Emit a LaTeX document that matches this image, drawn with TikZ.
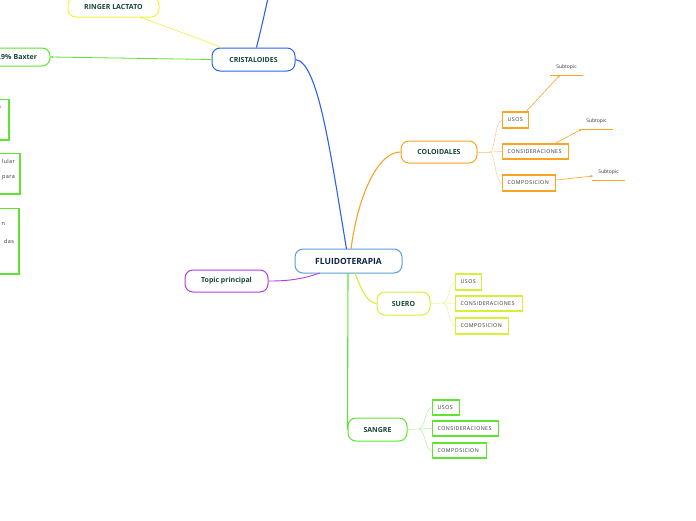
\documentclass[tikz,border=0pt]{standalone}
\usepackage{fontspec}
\setmainfont{Open Sans}
\newfontfamily\leaffont[LetterSpace=8]{Open Sans}
\usetikzlibrary{arrows.meta}
\definecolor{txtgreen}{HTML}{17463A}
\definecolor{txtnavy}{HTML}{0F2547}
\definecolor{cblue}{HTML}{2D62F0}
\definecolor{clblue}{HTML}{5A9ED8}
\definecolor{corange}{HTML}{F8A425}
\definecolor{clorange}{HTML}{FCD39C}
\definecolor{cyellow}{HTML}{F2F23C}
\definecolor{cygreen}{HTML}{D6F03A}
\definecolor{clygreen}{HTML}{EAF7A0}
\definecolor{cgreen}{HTML}{5FE531}
\definecolor{clgreen}{HTML}{B8F3A0}
\definecolor{cpurple}{HTML}{B43CE0}
\definecolor{smalltxt}{HTML}{333333}
\tikzset{
  topicbox/.style={draw, rounded corners=8pt, line width=1pt, fill=white, inner sep=0pt,
    font=\fontsize{7}{8}\selectfont\bfseries, text=txtgreen},
  leafbox/.style={draw, line width=1.4pt, fill=white, inner xsep=5pt, inner ysep=0pt, anchor=west,
    align=left, font=\leaffont\fontsize{5.3}{6}\selectfont, text=smalltxt},
  sidebox/.style={draw=cgreen, line width=1.2pt, fill=white},
  subtxt/.style={font=\fontsize{5}{6}\selectfont, text=smalltxt},
  sidetxt/.style={font=\leaffont\fontsize{5.5}{6}\selectfont, text=smalltxt},
  thinlink/.style={line width=0.6pt},
  mainlink/.style={line width=1.1pt},
  arr/.style={-{Stealth[length=3pt,width=2.5pt]}}
}
\begin{document}
\begin{tikzpicture}[x=1pt,y=-1pt]
\useasboundingbox (0,0) rectangle (696,520);
\clip (0,0) rectangle (696,520);
\fill[white] (0,0) rectangle (696,520);

% coordinates for free ends
\coordinate (topout) at (268,-2);
\coordinate (s1end) at (560,75);
\coordinate (s2end) at (582,129);
\coordinate (s3end) at (593,176);
\coordinate (cbr) at (490,152);
\coordinate (sbr) at (443,303);
\coordinate (gbr) at (419,429);

% main nodes
\node[topicbox, draw=clblue, text=txtnavy, font=\fontsize{8.5}{10}\selectfont\bfseries,
  minimum width=107pt, minimum height=24pt] (fluido) at (348.5,261) {FLUIDOTERAPIA};
\node[topicbox, draw=cblue, minimum width=83pt, minimum height=23pt] (cris) at (253.5,59.5) {CRISTALOIDES};
\node[topicbox, draw=cyellow, minimum width=91pt, minimum height=20pt] (ringer) at (113.5,7) {RINGER LACTATO};
\node[topicbox, draw=cgreen, minimum width=110pt, minimum height=18pt, align=right, text width=84pt] (baxter) at (-5,57) {0.9\% Baxter};
\node[topicbox, draw=corange, minimum width=76pt, minimum height=22pt] (colo) at (439,152) {COLOIDALES};
\node[topicbox, draw=cpurple, minimum width=83pt, minimum height=22pt] (topic) at (226.5,281) {Topic principal};
\node[topicbox, draw=cygreen, minimum width=53pt, minimum height=23pt] (suero) at (403.5,303.5) {SUERO};
\node[topicbox, draw=cgreen, minimum width=59pt, minimum height=23pt] (sangre) at (377.5,429.5) {SANGRE};

% left side boxes (cut by the edge)
\draw[sidebox] (-40,99.5) rectangle (9,140);
\draw[sidebox] (-40,153.5) rectangle (20,194);
\draw[sidebox] (-40,208.5) rectangle (19,274);
\node[sidetxt, anchor=east] (t1) at (4.5,107) {s};
\node[sidetxt, anchor=east] (t2) at (18.5,161) {lular};
\node[sidetxt, anchor=east] (t3) at (18.5,178) {para};
\node[sidetxt, anchor=east] (t4) at (8.5,224) {n};
\node[sidetxt, anchor=east] (t5) at (17.5,241) {das};

% coloidales leaves
\node[leafbox, draw=corange, text width=16pt, minimum height=16pt] (cu) at (502,120) {USOS};
\node[leafbox, draw=corange, text width=56pt, minimum height=15pt] (cc) at (502,151.5) {CONSIDERACIONES};
\node[leafbox, draw=corange, text width=43pt, minimum height=16pt] (cp) at (502,183) {COMPOSICION};
% suero leaves
\node[leafbox, draw=cygreen, text width=16pt, minimum height=16pt] (su) at (455,282) {USOS};
\node[leafbox, draw=cygreen, text width=57pt, minimum height=15pt] (sc) at (455,303.5) {CONSIDERACIONES};
\node[leafbox, draw=cygreen, text width=43pt, minimum height=16pt] (sp) at (455,326) {COMPOSICION};
% sangre leaves
\node[leafbox, draw=cgreen, text width=17pt, minimum height=15pt] (gu) at (432,407.5) {USOS};
\node[leafbox, draw=cgreen, text width=56pt, minimum height=15pt] (gc) at (432,428.5) {CONSIDERACIONES};
\node[leafbox, draw=cgreen, text width=44pt, minimum height=15pt] (gp) at (432,450.5) {COMPOSICION};

% subtopics
\node[subtxt, anchor=south] (sub1) at (566.5,73) {Subtopic};
\node[subtxt, anchor=south] (sub2) at (596.5,127) {Subtopic};
\node[subtxt, anchor=south] (sub3) at (608.5,178) {Subtopic};
\draw[corange, line width=0.9pt] (550,75) -- (583,75);
\draw[corange, line width=0.9pt] (580,129) -- (613,129);
\draw[corange, line width=0.9pt] (592,180) -- (625,180);

% main connectors
\draw[cblue, mainlink] (346.5,249) .. controls (330,150) and (318,62) .. (cris.east);
\draw[cblue, mainlink] (cris.north) ++(3,0) .. controls (262,25) .. (topout);
\draw[cyellow, thinlink, arr] (222,47.5) -- (140,17);
\draw[cgreen, line width=0.8pt, arr] (cris.west) -- (baxter.east);
\draw[corange, mainlink] (351,249) .. controls (358,195) and (378,152) .. (colo.west);
\draw[cpurple, line width=0.9pt] (320,273) .. controls (300,280) and (285,281) .. (topic.east);
\draw[cygreen, mainlink] (355,273) .. controls (362,292) and (368,303) .. (suero.west);
\draw[cgreen, mainlink] (348,273) -- (sangre.west);

% branch links
\draw[clorange, thinlink] (colo.east) -- (cbr);
\draw[clorange, thinlink] (cbr) .. controls (495,152) and (495,120) .. (cu.west);
\draw[clorange, thinlink] (cbr) -- (cc.west);
\draw[clorange, thinlink] (cbr) .. controls (495,152) and (495,183) .. (cp.west);
\draw[clygreen, thinlink] (suero.east) -- (sbr);
\draw[clygreen, thinlink] (sbr) .. controls (449,303) and (449,282) .. (su.west);
\draw[clygreen, thinlink] (sbr) -- (sc.west);
\draw[clygreen, thinlink] (sbr) .. controls (449,303) and (449,326) .. (sp.west);
\draw[clgreen, thinlink] (sangre.east) -- (gbr);
\draw[clgreen, thinlink] (gbr) .. controls (425,429) and (425,407.5) .. (gu.west);
\draw[clgreen, thinlink] (gbr) -- (gc.west);
\draw[clgreen, thinlink] (gbr) .. controls (425,429) and (425,450.5) .. (gp.west);

% subtopic arrows
\draw[corange, thinlink, arr] (cu.north east) ++(-3,0) -- (s1end);
\draw[corange, thinlink, arr] (cc.north east) ++(-14,0) -- (s2end);
\draw[corange, thinlink, arr] (cp.east) ++(0,-3) -- (s3end);
\end{tikzpicture}
\end{document}
